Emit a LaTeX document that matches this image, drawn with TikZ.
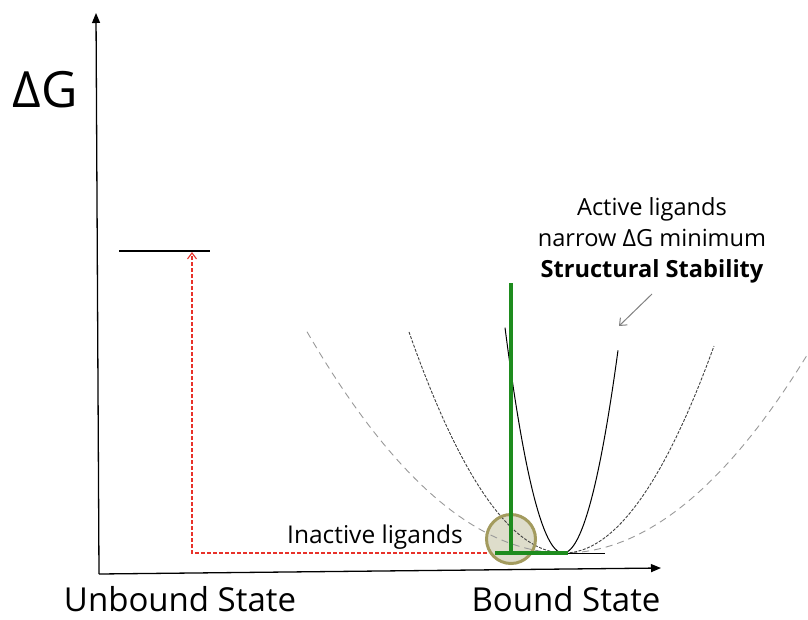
\documentclass[tikz,border=0pt]{standalone}
\usepackage{fontspec}
\setmainfont{Open Sans}
\usetikzlibrary{arrows.meta}
\definecolor{tgreen}{HTML}{1E8C1E}
\definecolor{olive}{HTML}{A39B5E}
\definecolor{olivefill}{HTML}{DEDDCB}
\definecolor{tred}{HTML}{E8322A}
\tikzset{
  axis/.style={line width=1.3pt,-{Triangle[length=10pt,width=8pt]}},
  lbl/.style={inner sep=0pt,font=\fontsize{24.5}{30}\selectfont},
  big/.style={inner sep=0pt,anchor=base,font=\fontsize{33}{38}\selectfont},
  greenbar/.style={tgreen,line width=4pt},
  wide/.style={gray!80,line width=0.9pt,dash pattern=on 7pt off 5pt},
  mid/.style={black!75,line width=0.9pt,dash pattern=on 3pt off 1.5pt},
  narrow/.style={black,line width=1pt},
}
\begin{document}
\begin{tikzpicture}[x=1pt,y=-1pt]
\useasboundingbox (0,0) rectangle (808,619);
% axes
\coordinate (O) at (99,574);
\coordinate (ytop) at (96,13);
\coordinate (xend) at (661,568);
\draw[axis] (O) -- (ytop);
\draw[axis] (O) -- (xend);
% labels
\node[inner sep=0pt,font=\fontsize{50}{56}\selectfont] (dg) at (45,90) {ΔG};
\node[big] (unb) at (180,611) {Unbound State};
\node[big] (bnd) at (566,611) {Bound State};
% unbound level
\coordinate (lvlL) at (119,251);
\coordinate (lvlR) at (210,251);
\draw[line width=1.2pt] (lvlL) -- (lvlR);
% parabolas
\draw[wide] plot[domain=307:808,samples=80] (\x,{553-33.5*((\x-564)/100)^2});
\draw[mid] plot[domain=409:714,samples=80] (\x,{553-92*((\x-564)/100)^2});
\draw[narrow] plot[domain=505:618,samples=80] (\x,{553-670*((\x-563)/100)^2});
% baseline
\coordinate (bl1) at (566,553);
\coordinate (bl2) at (605,553);
\draw[line width=1pt] (bl1) -- (bl2);
% circle
\node[circle,draw=olive,fill=olivefill,line width=3pt,minimum size=49pt,inner sep=0pt] (circ) at (511,539) {};
% dashed curves visible over circle
\begin{scope}
\clip (511,539) circle (23pt);
\draw[wide] plot[domain=480:560,samples=40] (\x,{553-33.5*((\x-564)/100)^2});
\draw[mid] plot[domain=480:560,samples=40] (\x,{553-92*((\x-564)/100)^2});
\end{scope}
% green T
\coordinate (gtop) at (511,283);
\coordinate (gbot) at (511,553);
\coordinate (gl) at (495,553);
\coordinate (gr) at (568,553);
\draw[greenbar] (gtop) -- (gbot);
\draw[greenbar] (gl) -- (gr);
% red dashed arrow
\coordinate (r1) at (487,553);
\coordinate (r2) at (192,553);
\coordinate (r3) at (192,252);
\draw[tred,line width=1.1pt,dash pattern=on 4pt off 2pt,-{Straight Barb[length=6pt,width=9pt]}] (r1) -- (r2) -- (r3);
% inactive label
\node[lbl] (inact) at (375,537) {Inactive ligands};
% active text
\node[lbl,align=center,font=\fontsize{23.6}{31}\selectfont] (act) at (652,240) {Active ligands\\narrow ΔG minimum\\\textbf{Structural Stability}};
\coordinate (ga1) at (652,294);
\coordinate (ga2) at (619,326);
\draw[gray,line width=1pt,-{Straight Barb[length=6pt,width=10pt]}] (ga1) -- (ga2);
\end{tikzpicture}
\end{document}
